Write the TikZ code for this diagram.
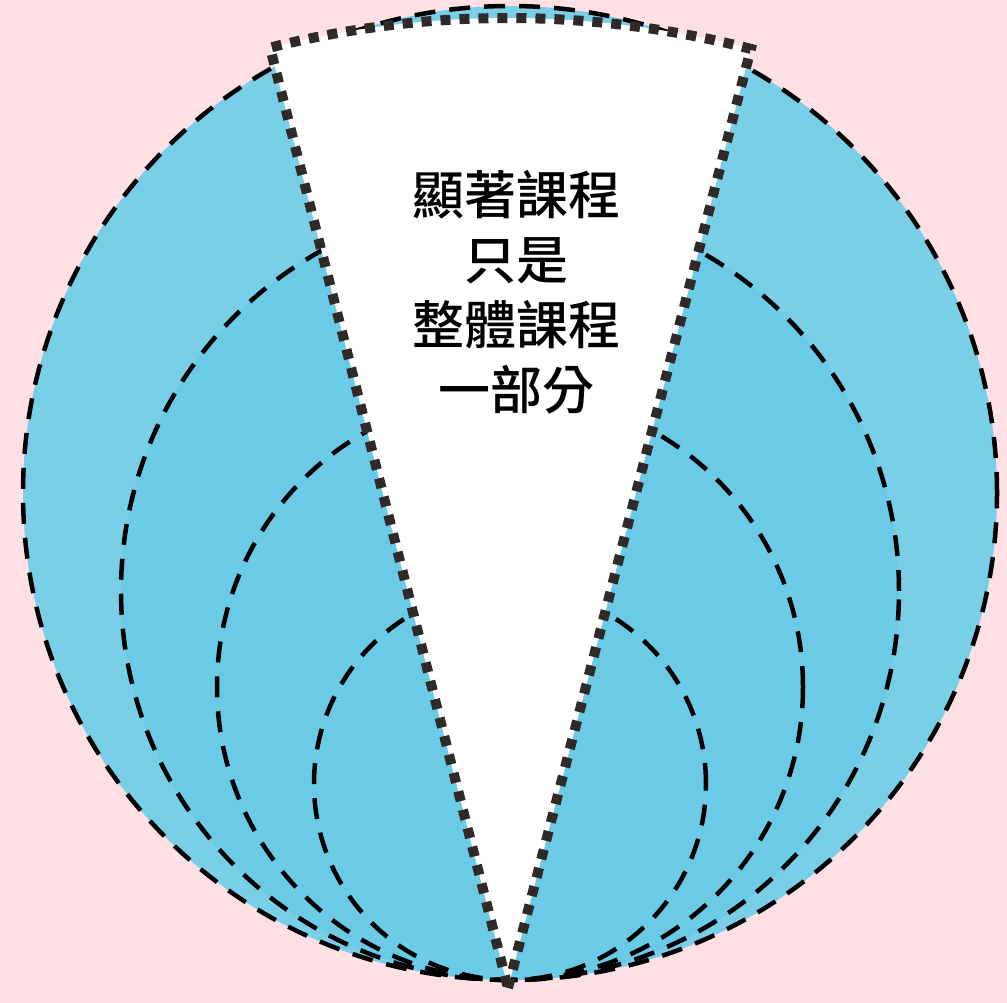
\documentclass[tikz,border=0pt]{standalone}
\usepackage{fontspec}
\newfontfamily\cjk{Noto Sans CJK TC}[UprightFont=* Medium, BoldFont=* Medium]
\usetikzlibrary{backgrounds}

\definecolor{bgpink}{HTML}{FFE0E4}
\definecolor{ringblue}{HTML}{7ACFE8}
\definecolor{coreblue}{HTML}{6BCAE6}
\definecolor{dotgray}{HTML}{2F2A28}

\begin{document}
\begin{tikzpicture}[x=1pt, y=1pt,
    ring/.style={draw=black, line width=4.5pt, dash pattern=on 21pt off 14pt},
    wedge/.style={draw=dotgray, line width=10pt, dash pattern=on 10pt off 9pt, fill=white, line join=miter, miter limit=20},
    wedgetext/.style={font=\cjk\fontsize{52}{65}\selectfont, align=center, text=black},
]
% Background
\fill[bgpink] (0,0) rectangle (1007,1003);
\useasboundingbox (0,0) rectangle (1007,1003);

% Coordinates
\coordinate (outer) at (510,510);
\coordinate (apex) at (508,15);

% Circles
\fill[ringblue] (outer) circle[radius=487];
\fill[coreblue] (510,412) circle[radius=389];
\draw[ring] (outer) circle[radius=487];
\draw[ring] (510,412) circle[radius=389];
\draw[ring] (510,316) circle[radius=293];
\draw[ring] (510,219) circle[radius=196];

% Wedge
\draw[wedge] (apex) -- ++(75.5:970) arc[start angle=75.5, end angle=104.2, radius=970] -- cycle;

% Text
\node[wedgetext] (msg) at (516,711) {顯著課程\\只是\\整體課程\\一部分};

\end{tikzpicture}
\end{document}
